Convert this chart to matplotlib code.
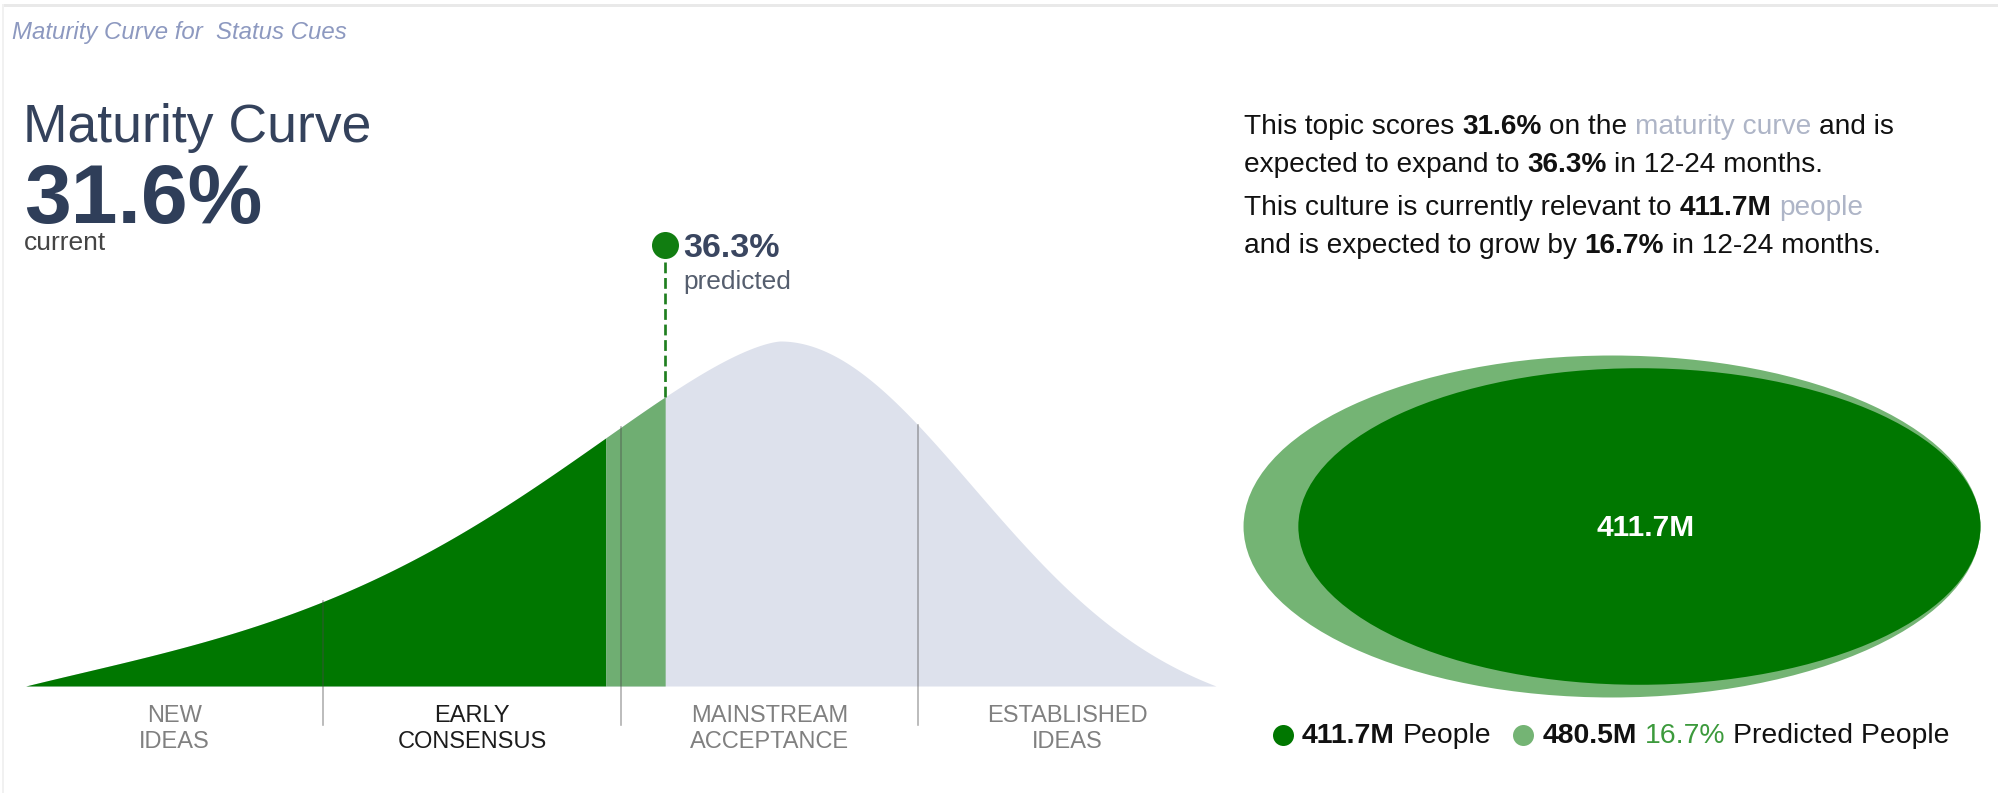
import numpy as np
import matplotlib
matplotlib.use("Agg")
import matplotlib.pyplot as plt
from matplotlib.patches import Ellipse
from matplotlib.lines import Line2D

# ---------------- data ----------------
topic = "Status Cues"
current_score = 31.6          # % on the maturity curve
predicted_score = 36.3        # % expected in 12-24 months
stage_lines = [("NEW", "IDEAS"), ("EARLY", "CONSENSUS"),
               ("MAINSTREAM", "ACCEPTANCE"), ("ESTABLISHED", "IDEAS")]
current_stage = 1
people_now = 411.7            # millions
people_pred = 480.5           # millions
people_growth = 16.7          # %
horizon = "12-24 months"

# ---------------- style ----------------
plt.rcParams["font.family"] = ["Liberation Sans", "DejaVu Sans"]
W, H, DPI = 1999, 793, 100
DARK_GREEN = "#007700"
LIGHT_GREEN = "#74b474"
CURVE_GREY = "#dde1ec"
SLATE = "#34425c"
PX = 72.0 / DPI               # points per pixel

# maturity-curve geometry (score units on the horizontal axis)
CURVE_LO, CURVE_HI, CURVE_PEAK = -14.2, 79.8, 45.4
LEFT_WIDTH, RIGHT_WIDTH = 28.9, 15.0


def maturity_profile(s):
    d = s - CURVE_PEAK
    out = np.empty_like(s)
    left = d < 0
    dl = -d[left]
    span_l = CURVE_PEAK - CURVE_LO
    end_l = np.exp(-(span_l / LEFT_WIDTH) ** 1.5)
    out[left] = np.exp(-(dl / LEFT_WIDTH) ** 1.5) - end_l * (dl / span_l) ** 6
    dr = d[~left]
    span_r = CURVE_HI - CURVE_PEAK
    end_r = np.exp(-0.5 * (span_r / RIGHT_WIDTH) ** 2)
    out[~left] = np.exp(-0.5 * (dr / RIGHT_WIDTH) ** 2) - end_r * (dr / span_r) ** 1.5
    return np.clip(out, 0, None)


fig = plt.figure(figsize=(W / DPI, H / DPI), dpi=DPI)
fig.patch.set_facecolor("white")
renderer = fig.canvas.get_renderer()


def fxy(x, y):
    return x / W, 1 - y / H


def ftext(x, y, s, **kw):
    fx, fy = fxy(x, y)
    return fig.text(fx, fy, s, va="baseline", ha="left", **kw)


def advance(s, size, weight="normal", style="normal"):
    def w(t):
        tt = fig.text(0, 0, t, fontsize=size, fontweight=weight, fontstyle=style)
        ww = tt.get_window_extent(renderer).width
        tt.remove()
        return ww
    return w("|" + s + "|") - w("||")


def rich_line(x, y, parts, size):
    space = advance(" ", size)
    for txt, weight, color in parts:
        lead = len(txt) - len(txt.lstrip(" "))
        trail = len(txt) - len(txt.rstrip(" "))
        core = txt.strip(" ")
        x += lead * space
        ftext(x, y, core, fontsize=size, fontweight=weight, color=color)
        x += advance(core, size, weight)
        x += trail * space
    return x


# panel frame
fig.add_artist(Line2D([fxy(3, 5)[0], 1], [fxy(3, 5)[1]] * 2, color="#e9e9e9", lw=3 * PX))
fig.add_artist(Line2D([fxy(3, 5)[0]] * 2, [0, fxy(3, 5)[1]], color="#f1f1f1", lw=2 * PX))

# ---------------- headings ----------------
ftext(12, 39, f"Maturity Curve for  {topic}", fontsize=17.3, fontstyle="italic", color="#8d99c0")
ftext(23, 142, "Maturity Curve", fontsize=38.5, color=SLATE)
ftext(24, 223, f"{current_score:.1f}%", fontsize=60.5, fontweight="bold", color="#2f3e59")
ftext(23.5, 250, "current", fontsize=19, color="#444444")

# ---------------- maturity curve ----------------
x0, x1 = 25.7, 1216.0
y_base, unit_px = 686.0, 345.0
ax_top, ax_bot = 220.0, 760.0
ax = fig.add_axes([x0 / W, 1 - ax_bot / H, (x1 - x0) / W, (ax_bot - ax_top) / H])
ax.set_xlim(CURVE_LO, CURVE_HI)
ax.set_ylim(-(ax_bot - y_base) / unit_px, (y_base - ax_top) / unit_px)
ax.axis("off")

xs = np.union1d(np.linspace(CURVE_LO, CURVE_HI, 1500), [current_score, predicted_score])
ys = maturity_profile(xs)
ax.fill_between(xs, 0, ys, color=CURVE_GREY, lw=0, zorder=1)
now_mask = xs <= current_score
ax.fill_between(xs[now_mask], 0, ys[now_mask], color=DARK_GREEN, lw=0, zorder=2)
pred_mask = (xs >= current_score) & (xs <= predicted_score)
ax.fill_between(xs[pred_mask], 0, ys[pred_mask], color="#6fae72", lw=0, zorder=2)

# stage dividers and labels
span = CURVE_HI - CURVE_LO
div_bottom = -(725 - y_base) / unit_px
for i in range(1, 4):
    xd = CURVE_LO + span * i / 4
    yd = maturity_profile(np.array([xd]))[0]
    ax.plot([xd, xd], [div_bottom, yd], color="#4a4a4a", alpha=0.45, lw=1.6 * PX, zorder=3)
for i, (l1, l2) in enumerate(stage_lines):
    xc = CURVE_LO + span * (i + 0.5) / 4
    col = "#1c1c1c" if i == current_stage else "#808080"
    ax.text(xc, -(722 - y_base) / unit_px, l1, ha="center", va="baseline", fontsize=17, color=col)
    ax.text(xc, -(747.5 - y_base) / unit_px, l2, ha="center", va="baseline", fontsize=17, color=col)

# predicted marker
dot_y = (y_base - 245) / unit_px
y_pred = maturity_profile(np.array([predicted_score]))[0]
ax.plot([predicted_score, predicted_score], [y_pred, dot_y], color="#1f7f1f",
        lw=2.7 * PX, ls=(0, (4.0, 1.75)), zorder=4)
ax.plot([predicted_score], [dot_y], marker="o", ms=27 * PX, color="#117d11", mec="none", zorder=5)
ax.annotate(f"{predicted_score:.1f}%", (predicted_score, dot_y), xytext=(18 * PX, -12 * PX),
            textcoords="offset points", ha="left", va="baseline", fontsize=24.5,
            fontweight="bold", color="#3a4660")
ax.annotate("predicted", (predicted_score, dot_y), xytext=(18.5 * PX, -44 * PX),
            textcoords="offset points", ha="left", va="baseline", fontsize=18.9, color="#555e6e")

# ---------------- summary text ----------------
TXT = "#111111"
SOFT = "#aeb5c7"
fs = 20.2
rich_line(1244, 134, [("This topic scores ", "normal", TXT), (f"{current_score:.1f}%", "bold", TXT),
                      (" on the ", "normal", TXT), ("maturity curve", "normal", SOFT),
                      (" and is", "normal", TXT)], fs)
rich_line(1244, 172, [("expected to expand to ", "normal", TXT), (f"{predicted_score:.1f}%", "bold", TXT),
                      (f" in {horizon}.", "normal", TXT)], fs)
rich_line(1244, 215, [("This culture is currently relevant to ", "normal", TXT),
                      (f"{people_now:.1f}M", "bold", TXT), (" people", "normal", SOFT)], fs)
rich_line(1244, 253, [("and is expected to grow by ", "normal", TXT), (f"{people_growth:.1f}%", "bold", TXT),
                      (f" in {horizon}.", "normal", TXT)], fs)

# ---------------- population ellipses ----------------
E_LEFT, E_TOP, E_W, E_H = 1225.0, 340.0, 774.0, 375.0
axe = fig.add_axes([E_LEFT / W, 1 - (E_TOP + E_H) / H, E_W / W, E_H / H])
axe.set_xlim(0, E_W)
axe.set_ylim(0, E_H)
axe.axis("off")
ELLIPSE_SCALE = 16.81          # px of semi-major axis per sqrt(million)
ELLIPSE_ASPECT = 2.155
right_edge = 1980.5 - E_LEFT
cy = E_TOP + E_H - 526.5
for val, col, z in [(people_pred, LIGHT_GREEN, 1), (people_now, DARK_GREEN, 2)]:
    a = ELLIPSE_SCALE * np.sqrt(val)
    b = a / ELLIPSE_ASPECT
    axe.add_patch(Ellipse((right_edge - a, cy), 2 * a, 2 * b, color=col, lw=0, zorder=z))
a_now = ELLIPSE_SCALE * np.sqrt(people_now)
axe.text(right_edge - a_now + 6, cy - 2, f"{people_now:.1f}M", ha="center", va="center",
         fontsize=21.5, fontweight="bold", color="white", zorder=3)

# legend
leg_fs = 20.4
fig.add_artist(Line2D([fxy(1283, 735)[0]], [fxy(1283, 735)[1]], marker="o", ms=21 * PX,
                      color=DARK_GREEN, mec="none", ls="none"))
xe = rich_line(1302, 743, [(f"{people_now:.1f}M", "bold", TXT), (" People", "normal", TXT)], leg_fs)
dot2 = xe + 32
fig.add_artist(Line2D([fxy(dot2, 735)[0]], [fxy(dot2, 735)[1]], marker="o", ms=21 * PX,
                      color=LIGHT_GREEN, mec="none", ls="none"))
rich_line(dot2 + 19.5, 743, [(f"{people_pred:.1f}M", "bold", TXT), (f" {people_growth:.1f}%", "normal", "#3c9a3c"),
                             (" Predicted People", "normal", TXT)], leg_fs)

fig.savefig("out.png", dpi=DPI, facecolor="white")
